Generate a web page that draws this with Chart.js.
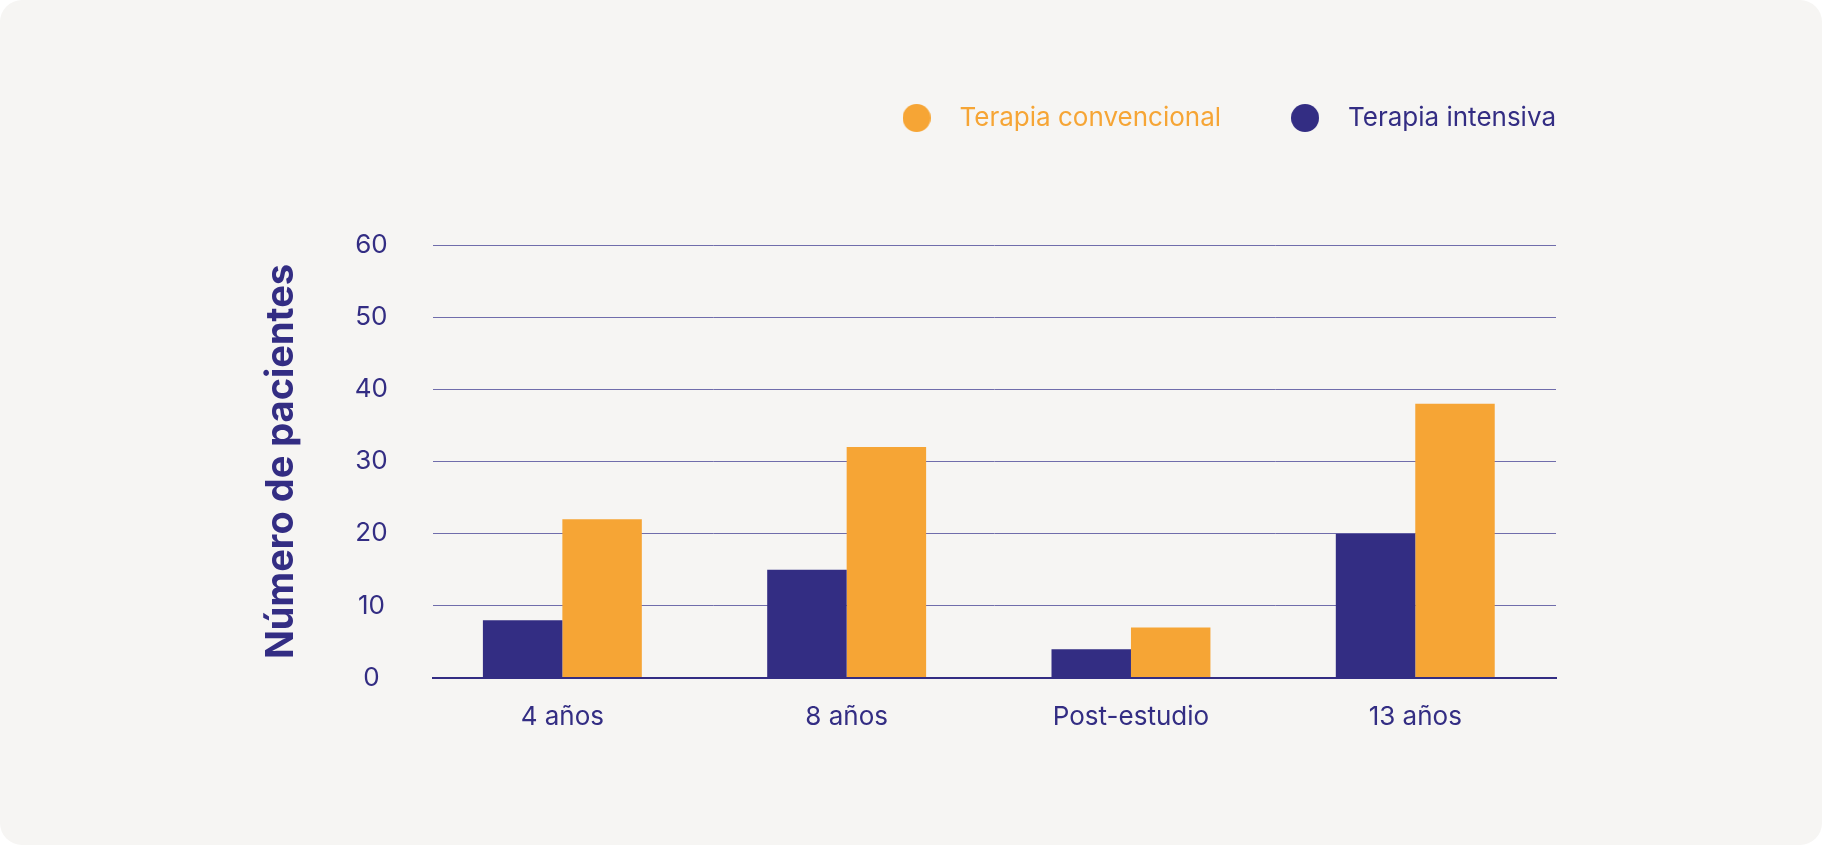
<!DOCTYPE html>
<html>
<head>
<meta charset="utf-8">
<script src="https://cdn.jsdelivr.net/npm/chart.js@4/dist/chart.umd.min.js"></script>
<style>
  html, body { margin: 0; padding: 0; background: #ffffff; }
  .card {
    width: 1822px; height: 845px;
    background: #f6f5f3;
    border-radius: 22px;
    overflow: hidden;
  }
  canvas { display: block; }
</style>
</head>
<body>
<div class="card"><canvas id="pacientesChart" width="1822" height="845"></canvas></div>
<script>
const categories = ['4 años', '8 años', 'Post-estudio', '13 años'];
const intensiva = [8, 15, 4, 20];
const convencional = [22, 32, 7, 38];
const yTicks = [0, 10, 20, 30, 40, 50, 60];

const NAVY = '#332d83';
const ORANGE = '#f6a535';
const FONT = 'Inter, "Liberation Sans", Arial, sans-serif';

// round marker for the legend
function dot(color) {
  const c = document.createElement('canvas');
  c.width = 28; c.height = 28;
  const g = c.getContext('2d');
  g.fillStyle = color;
  g.beginPath();
  g.arc(14, 14, 14, 0, Math.PI * 2);
  g.fill();
  return c;
}

// categories sit on a numeric x axis so the groups can be placed like the original
const toPoints = (values) => values.map((v, i) => ({ x: i, y: v }));

const ctx = document.getElementById('pacientesChart').getContext('2d');
const pacientesChart = new Chart(ctx, {
  type: 'bar',
  data: {
    datasets: [{
      label: 'Terapia intensiva',
      data: toPoints(intensiva),
      backgroundColor: NAVY,
      borderWidth: 0
    }, {
      label: 'Terapia convencional',
      data: toPoints(convencional),
      backgroundColor: ORANGE,
      borderWidth: 0
    }]
  },
  options: {
    responsive: false,
    animation: false,
    datasets: {
      bar: { categoryPercentage: 0.559, barPercentage: 1 }
    },
    layout: {
      padding: { top: 51, left: 240, right: 212, bottom: 67 }
    },
    plugins: {
      legend: {
        display: true,
        position: 'top',
        align: 'end',
        reverse: true,
        weight: 3000,
        labels: {
          usePointStyle: true,
          pointStyleWidth: 60,
          padding: 54,
          font: { family: FONT, size: 26 },
          generateLabels: (chart) => chart.data.datasets.map((ds, i) => ({
            text: ds.label,
            fillStyle: ds.backgroundColor,
            strokeStyle: ds.backgroundColor,
            fontColor: ds.backgroundColor,
            lineWidth: 0,
            pointStyle: dot(ds.backgroundColor),
            hidden: false,
            datasetIndex: i
          }))
        }
      },
      // empty title used as space between legend and plot
      title: {
        display: true,
        text: '',
        weight: 2000,
        font: { size: 10 },
        padding: { top: 92, bottom: 0 }
      },
      tooltip: { enabled: false }
    },
    scales: {
      x: {
        type: 'linear',
        offset: false,
        min: -0.455,
        max: 3.495,
        afterBuildTicks: (scale) => { scale.ticks = categories.map((c, i) => ({ value: i })); },
        grid: { display: false },
        border: { display: true, color: NAVY, width: 2 },
        ticks: {
          color: NAVY,
          padding: 16,
          font: { family: FONT, size: 26 },
          callback: (value) => categories[value]
        },
        afterFit: (scale) => { scale.height = 100; }
      },
      y: {
        min: 0,
        max: 60,
        afterBuildTicks: (scale) => { scale.ticks = yTicks.map(v => ({ value: v })); },
        border: { display: false },
        grid: {
          drawTicks: false,
          color: (c) => c.tick && c.tick.value === 0 ? NAVY : '#706dab',
          lineWidth: (c) => c.tick && c.tick.value === 0 ? 2 : 1
        },
        ticks: {
          color: NAVY,
          padding: 45,
          crossAlign: 'center',
          font: { family: FONT, size: 26 }
        },
        title: {
          display: true,
          text: 'Número de pacientes',
          color: NAVY,
          padding: { top: 19, bottom: 0 },
          font: { family: FONT, size: 38, weight: 'bold' }
        },
        afterFit: (scale) => { scale.width = 193; }
      },
      // blank strip on the right so the plot ends under the legend text
      yRight: {
        position: 'right',
        display: true,
        grid: { display: false },
        border: { display: false },
        ticks: { display: false },
        afterFit: (scale) => { scale.width = 54; }
      }
    }
  }
});
</script>
</body>
</html>
